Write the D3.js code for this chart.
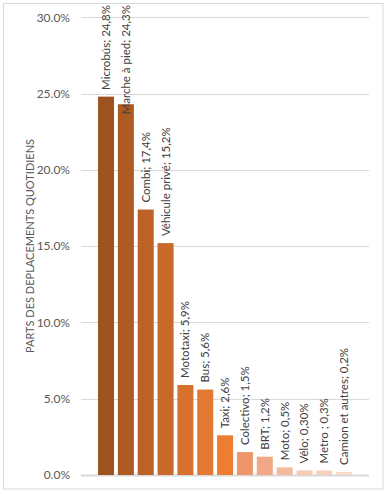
<!DOCTYPE html>
<html><head><meta charset="utf-8">
<script src="https://cdn.jsdelivr.net/npm/d3@7"></script>
<style>body{margin:0;background:#fff}svg{display:block}</style>
</head><body>
<script>
const categories = ["Microbús","Marche à pied","Combi","Véhicule privé","Mototaxi","Bus","Taxi","Colectivo","BRT","Moto","Vélo","Metro ","Camion et autres"];
const values = [0.248,0.243,0.174,0.152,0.059,0.056,0.026,0.015,0.012,0.005,0.003,0.003,0.002];
const valueLabels = ["24,8%","24,3%","17,4%","15,2%","5,9%","5,6%","2,6%","1,5%","1,2%","0,5%","0,30%","0,3%","0,2%"];
const colors = ["#9E5220","#AE5A23","#BD6227","#C9692B","#D6712E","#E27932","#ED7D31","#F0956B","#F2A886","#F5BAA0","#F7CAB6","#F8D0BD","#F9D9CA"];
const yTicks = [0,0.05,0.10,0.15,0.20,0.25,0.30];
const yTitle = "PARTS DES DEPLACEMENTS QUOTIDIENS";

const W=388,H=494;
const svg=d3.select("body").append("svg").attr("width",W).attr("height",H);
svg.append("rect").attr("x",3.5).attr("y",3.5).attr("width",379.5).attr("height",485.5)
  .attr("fill","#fff").attr("stroke","#d9d9d9").attr("stroke-width",1);

const font="Lato, 'Liberation Sans', sans-serif";
const y=d3.scaleLinear().domain([0,0.30]).range([475,17.3]);
const x=d3.scaleBand().domain(categories).range([96.1,354.1]).paddingInner(0.194).paddingOuter(0.097);

// gridlines
svg.append("g").selectAll("line").data(yTicks).join("line")
  .attr("x1",81).attr("x2",369)
  .attr("y1",d=>Math.round(y(d))+0.5).attr("y2",d=>Math.round(y(d))+0.5)
  .attr("stroke","#d9d9d9").attr("stroke-width",d=>d===0?2:1);

// y axis labels
const yAxis=d3.axisLeft(y).tickValues(yTicks).tickFormat(d3.format(".1%")).tickSize(0).tickPadding(0);
const ga=svg.append("g").attr("transform","translate(70,0)").call(yAxis);
ga.select(".domain").remove();
ga.selectAll("text").attr("font-family",font).attr("font-size",12).attr("fill","#595959");

// axis title
svg.append("text").attr("transform","translate(34,246) rotate(-90)")
  .attr("text-anchor","middle").attr("font-family",font).attr("font-size",11)
  .attr("fill","#595959").text(yTitle);

// bars
svg.append("g").selectAll("rect").data(categories).join("rect")
  .attr("x",d=>x(d)).attr("width",x.bandwidth())
  .attr("y",(d,i)=>y(values[i])).attr("height",(d,i)=>y(0)-y(values[i]))
  .attr("fill",(d,i)=>colors[i]);

// labels
const lab=svg.append("g").selectAll("text").data(categories).join("text")
  .attr("font-family",font).attr("font-size",11.5).attr("fill","#404040")
  .text((d,i)=>d+"; "+valueLabels[i]);
lab.each(function(d,i){
  const len=this.getComputedTextLength();
  let start=y(values[i])-7;
  if(start-len<5) start=5+len;
  d3.select(this).attr("transform",`translate(${x(d)+x.bandwidth()/2+4},${start}) rotate(-90)`);
});
</script>
</body></html>
